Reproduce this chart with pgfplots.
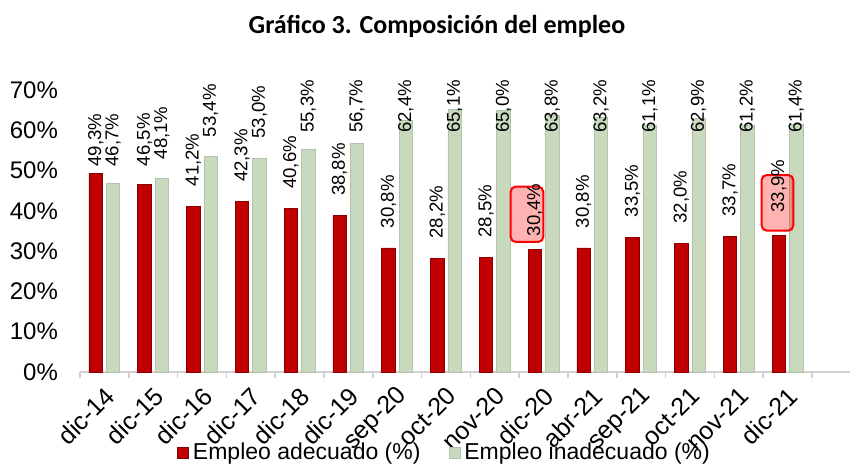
\documentclass[border=0pt]{standalone}
\usepackage{pgfplots}
\pgfplotsset{compat=1.18}
\usepackage{fontspec}
\setmainfont{Liberation Sans}
\newfontfamily\titlefont{Carlito}
\definecolor{rojo}{HTML}{C00000}
\definecolor{rojod}{HTML}{8A0000}
\definecolor{verde}{HTML}{C8D9BE}
\definecolor{verded}{HTML}{B3C2AA}
\definecolor{gris}{HTML}{D0D0D0}
\begin{document}
\begin{tikzpicture}
\path[use as bounding box] (-40pt,-49.5pt) rectangle (385pt,186pt);
\begin{axis}[
  at={(0,0)}, anchor=south west,
  scale only axis, width=385pt, height=141pt,
  xmin=-0.5, xmax=15.28, ymin=0, ymax=70,
  clip=false,
  axis lines*=left,
  x axis line style={gris, line width=0.8pt},
  y axis line style={draw=none},
  major tick length=0pt,
  ytick={0,10,...,70},
  yticklabel={\pgfmathprintnumber[assume math mode=true]{\tick}\%},
  yticklabel style={font=\fontsize{12}{13}\selectfont, xshift=-7.5pt},
  xtick={0,...,14},
  xticklabels={dic-14,dic-15,dic-16,dic-17,dic-18,dic-19,sep-20,oct-20,nov-20,dic-20,abr-21,sep-21,oct-21,nov-21,dic-21},
  xticklabel style={font=\fontsize{12.5}{13}\selectfont, rotate=45, anchor=east, xshift=-1.5pt, yshift=-9pt},
  extra x ticks={-0.5,0.5,...,14.5},
  extra x tick labels={},
  extra x tick style={major tick length=3pt, tick align=outside, tick style={gris, line width=0.8pt}},
  legend style={draw=none, fill=none, at={(0.4747,-0.287)}, anchor=center,
    font=\fontsize{11.5}{12}\selectfont, legend columns=2,
    /tikz/every even column/.append style={column sep=12pt}},
  legend cell align=left,
  legend image code/.code={\draw[#1] (0pt,-2.8pt) rectangle (5.5pt,2.6pt);},
]
\addplot[ybar, bar width=6.7pt, bar shift=-4.35pt, draw=rojod, line width=0.4pt, fill=rojo]
 coordinates {(0,49.3) (1,46.5) (2,41.2) (3,42.3) (4,40.6) (5,38.8) (6,30.8) (7,28.2) (8,28.5) (9,30.4) (10,30.8) (11,33.5) (12,32.0) (13,33.7) (14,33.9)};
\addlegendentry{Empleo adecuado (\%)}
\addplot[ybar, bar width=6.7pt, bar shift=4.35pt, draw=verded, line width=0.4pt, fill=verde]
 coordinates {(0,46.7) (1,48.1) (2,53.4) (3,53.0) (4,55.3) (5,56.7) (6,62.4) (7,65.1) (8,65.0) (9,63.8) (10,63.2) (11,61.1) (12,62.9) (13,61.2) (14,61.4)};
\addlegendentry{Empleo inadecuado (\%)}
% data labels (value, position of the label foot)
\addplot[forget plot, only marks, mark=*, mark size=0pt, mark options={draw=none,fill=none},
  point meta=explicit,
  nodes near coords={\pgfmathprintnumber[assume math mode=true, fixed, fixed zerofill, precision=1, use comma]{\pgfplotspointmeta}\%},
  every node near coord/.style={rotate=90, anchor=west, inner sep=0pt, font=\fontsize{9.3}{10}\selectfont, black}]
 table[x=x, y=y, meta=v] {
x y v
-0.178 50.9 49.3
0.822 51.0 46.5
1.822 46.0 41.2
2.822 47.1 42.3
3.822 45.4 40.6
4.822 43.6 38.8
5.822 35.6 30.8
6.822 33.0 28.2
7.822 33.3 28.5
8.822 33.6 30.4
9.822 35.6 30.8
10.822 38.3 33.5
11.822 36.8 32.0
12.822 38.5 33.7
13.822 39.5 33.9
};
\addplot[forget plot, only marks, mark=*, mark size=0pt, mark options={draw=none,fill=none},
  point meta=explicit,
  nodes near coords={\pgfmathprintnumber[assume math mode=true, fixed, fixed zerofill, precision=1, use comma]{\pgfplotspointmeta}\%},
  every node near coord/.style={rotate=90, anchor=west, inner sep=0pt, font=\fontsize{9.3}{10}\selectfont, black}]
 table[x=x, y=y, meta=v] {
x y v
0.178 50.9 46.7
1.178 52.7 48.1
2.178 58.2 53.4
3.178 57.9 53.0
4.178 59.3 55.3
5.178 59.3 56.7
6.178 59.3 62.4
7.178 59.3 65.1
8.178 59.3 65.0
9.178 59.3 63.8
10.178 59.3 63.2
11.178 59.3 61.1
12.178 59.3 62.9
13.178 59.3 61.2
14.178 59.3 61.4
};
\draw[red, line width=1pt, fill=red, fill opacity=0.3, rounded corners=2.5pt]
  (axis cs:8.326,32.3) rectangle (axis cs:8.994,46.0);
\draw[red, line width=1pt, fill=red, fill opacity=0.3, rounded corners=2.5pt]
  (axis cs:13.469,35.1) rectangle (axis cs:14.117,48.9);
\node[font=\titlefont\bfseries\fontsize{13}{14}\selectfont] at (rel axis cs:0.4636,1.224) {Gráfico 3. Composición del empleo};
\end{axis}
\end{tikzpicture}
\end{document}
